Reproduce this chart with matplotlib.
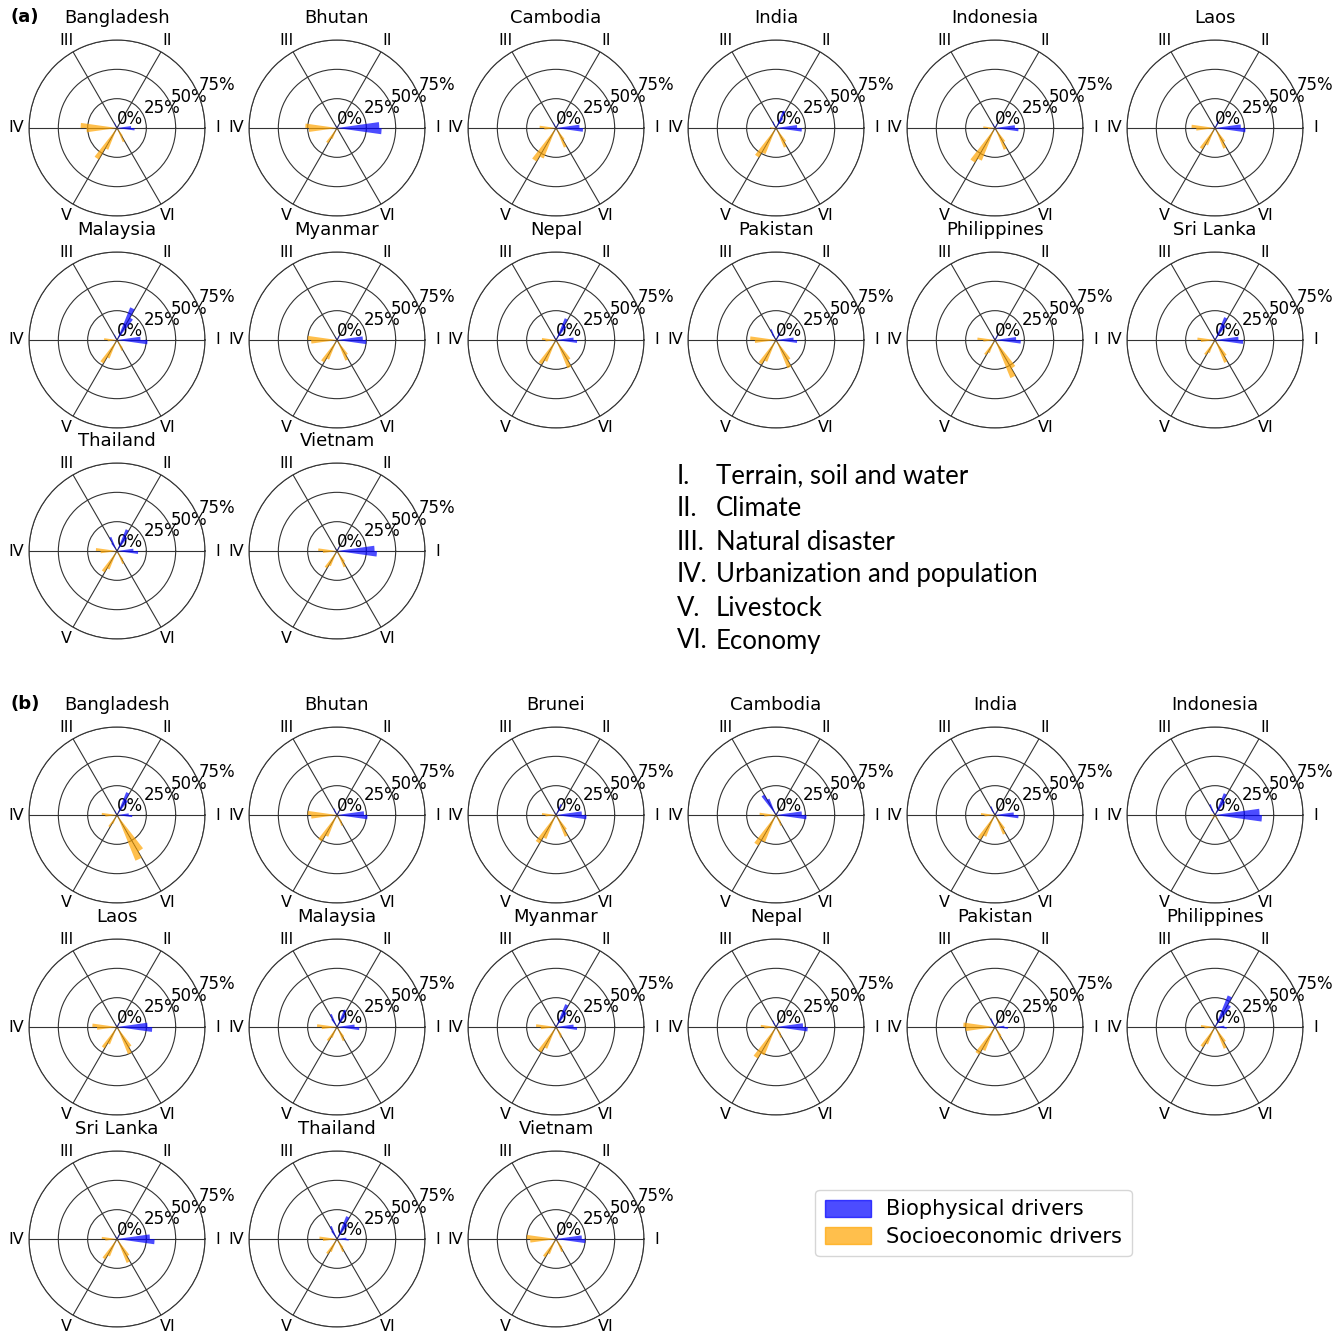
import numpy as np
import matplotlib
matplotlib.use("Agg")
import matplotlib.pyplot as plt
from matplotlib.patches import Patch

# values per panel: [I1, I2, II1, II2, III1, III2, IV1, IV2, V1, V2, VI1, VI2]
# (share of drivers, 0..0.75), I-III biophysical, IV-VI socioeconomic
a_bangladesh = [0.15, 0.12, 0.02, 0.02, 0.05, 0.03, 0.31, 0.26, 0.31, 0.20, 0.13, 0.08]
a_bhutan = [0.38, 0.36, 0.02, 0.03, 0.03, 0.02, 0.27, 0.24, 0.15, 0.10, 0.03, 0.02]
a_cambodia = [0.23, 0.20, 0.03, 0.04, 0.05, 0.03, 0.14, 0.10, 0.33, 0.28, 0.18, 0.12]
a_india = [0.22, 0.18, 0.10, 0.16, 0.06, 0.04, 0.05, 0.04, 0.29, 0.24, 0.18, 0.14]
a_indonesia = [0.20, 0.17, 0.03, 0.04, 0.04, 0.03, 0.10, 0.06, 0.34, 0.30, 0.20, 0.14]
a_laos = [0.26, 0.22, 0.04, 0.06, 0.03, 0.02, 0.20, 0.16, 0.21, 0.16, 0.19, 0.14]
a_malaysia = [0.26, 0.20, 0.22, 0.30, 0.05, 0.03, 0.11, 0.08, 0.23, 0.17, 0.10, 0.08]
a_myanmar = [0.25, 0.22, 0.03, 0.04, 0.03, 0.02, 0.25, 0.22, 0.22, 0.18, 0.19, 0.15]
a_nepal = [0.18, 0.15, 0.14, 0.20, 0.04, 0.03, 0.12, 0.09, 0.24, 0.20, 0.26, 0.20]
a_pakistan = [0.18, 0.15, 0.05, 0.07, 0.10, 0.06, 0.22, 0.18, 0.24, 0.20, 0.26, 0.20]
a_philippines = [0.22, 0.18, 0.03, 0.05, 0.04, 0.03, 0.15, 0.10, 0.15, 0.12, 0.35, 0.28]
a_srilanka = [0.24, 0.20, 0.15, 0.21, 0.05, 0.03, 0.15, 0.12, 0.15, 0.12, 0.21, 0.16]
a_thailand = [0.18, 0.14, 0.14, 0.20, 0.13, 0.08, 0.18, 0.14, 0.21, 0.17, 0.12, 0.09]
a_vietnam = [0.34, 0.32, 0.03, 0.04, 0.02, 0.02, 0.16, 0.12, 0.17, 0.14, 0.15, 0.11]

b_bangladesh = [0.13, 0.10, 0.15, 0.21, 0.04, 0.03, 0.13, 0.10, 0.12, 0.08, 0.42, 0.36]
b_bhutan = [0.26, 0.23, 0.03, 0.04, 0.06, 0.04, 0.25, 0.22, 0.26, 0.20, 0.10, 0.07]
b_brunei = [0.26, 0.22, 0.06, 0.10, 0.03, 0.02, 0.12, 0.09, 0.28, 0.22, 0.20, 0.15]
b_cambodia = [0.26, 0.22, 0.03, 0.03, 0.15, 0.20, 0.14, 0.10, 0.30, 0.25, 0.10, 0.07]
b_india = [0.20, 0.16, 0.04, 0.03, 0.08, 0.05, 0.12, 0.09, 0.24, 0.20, 0.18, 0.14]
b_indonesia = [0.40, 0.38, 0.14, 0.20, 0.10, 0.06, 0.04, 0.03, 0.04, 0.03, 0.05, 0.03]
b_laos = [0.30, 0.26, 0.03, 0.04, 0.03, 0.02, 0.21, 0.17, 0.21, 0.16, 0.25, 0.20]
b_malaysia = [0.19, 0.15, 0.12, 0.16, 0.12, 0.08, 0.17, 0.13, 0.14, 0.10, 0.13, 0.10]
b_myanmar = [0.18, 0.15, 0.15, 0.21, 0.03, 0.02, 0.17, 0.13, 0.25, 0.20, 0.10, 0.08]
b_nepal = [0.27, 0.23, 0.03, 0.04, 0.06, 0.04, 0.13, 0.10, 0.31, 0.26, 0.10, 0.07]
b_pakistan = [0.11, 0.08, 0.03, 0.03, 0.08, 0.05, 0.27, 0.25, 0.27, 0.22, 0.12, 0.09]
b_philippines = [0.10, 0.08, 0.22, 0.29, 0.03, 0.02, 0.12, 0.09, 0.20, 0.16, 0.20, 0.15]
b_srilanka = [0.32, 0.28, 0.03, 0.04, 0.03, 0.02, 0.13, 0.10, 0.20, 0.16, 0.22, 0.17]
b_thailand = [0.10, 0.08, 0.15, 0.21, 0.12, 0.08, 0.15, 0.12, 0.15, 0.12, 0.12, 0.09]
b_vietnam = [0.25, 0.22, 0.03, 0.04, 0.02, 0.02, 0.25, 0.22, 0.18, 0.14, 0.12, 0.09]

panels_a = [("Bangladesh", a_bangladesh), ("Bhutan", a_bhutan), ("Cambodia", a_cambodia),
            ("India", a_india), ("Indonesia", a_indonesia), ("Laos", a_laos),
            ("Malaysia", a_malaysia), ("Myanmar", a_myanmar), ("Nepal", a_nepal),
            ("Pakistan", a_pakistan), ("Philippines", a_philippines), ("Sri Lanka", a_srilanka),
            ("Thailand", a_thailand), ("Vietnam", a_vietnam)]
panels_b = [("Bangladesh", b_bangladesh), ("Bhutan", b_bhutan), ("Brunei", b_brunei),
            ("Cambodia", b_cambodia), ("India", b_india), ("Indonesia", b_indonesia),
            ("Laos", b_laos), ("Malaysia", b_malaysia), ("Myanmar", b_myanmar),
            ("Nepal", b_nepal), ("Pakistan", b_pakistan), ("Philippines", b_philippines),
            ("Sri Lanka", b_srilanka), ("Thailand", b_thailand), ("Vietnam", b_vietnam)]

cat_labels = ["I", "II", "III", "IV", "V", "VI"]
cat_names = ["Terrain, soil and water", "Climate", "Natural disaster",
             "Urbanization and population", "Livestock", "Economy"]
r_ticks = [0, 0.25, 0.5, 0.75]
r_labels = ["0%", "25%", "50%", "75%"]

W, H = 1344, 1331
col_x = [117, 337, 556, 776, 995, 1215]
rows_a = [128, 340, 551]
rows_b = [815, 1027, 1239]
R = 88  # px, outer radius

BLUE = "blue"
ORANGE = "orange"


def DrawPanel(fig, cx, cy, name, vals):
    ax = fig.add_axes([(cx - R) / W, 1 - (cy + R) / H, 2 * R / W, 2 * R / H], projection="polar")
    cat_ang = np.deg2rad(np.arange(6) * 60)
    offs = [-0.07, 0.07]
    for k in range(6):
        col = BLUE if k < 3 else ORANGE
        for j in range(2):
            ax.bar(cat_ang[k] + offs[j], vals[2 * k + j], width=0.14, color=col,
                   alpha=0.7, linewidth=0, zorder=3)
    ax.set_ylim(0, 0.75)
    ax.set_xticks(cat_ang)
    ax.set_xticklabels(cat_labels, fontsize=11.5)
    ax.set_yticks(r_ticks)
    ax.set_yticklabels(r_labels, fontsize=12)
    ax.grid(True, color="#333333", linewidth=0.8)
    ax.spines["polar"].set_color("#333333")
    ax.spines["polar"].set_linewidth(0.8)
    ax.tick_params(axis="x", pad=-1.5)
    ax.set_title(name, fontsize=13, pad=7.5)
    return ax


def main():
    fig = plt.figure(figsize=(W / 100, H / 100), dpi=100)
    for i, (name, vals) in enumerate(panels_a):
        DrawPanel(fig, col_x[i % 6], rows_a[i // 6], name, vals)
    for i, (name, vals) in enumerate(panels_b):
        DrawPanel(fig, col_x[i % 6], rows_b[i // 6], name, vals)

    fig.text(10 / W, 1 - 17 / H, "(a)", fontsize=13, fontweight="bold", va="center")
    fig.text(10 / W, 1 - 704 / H, "(b)", fontsize=13, fontweight="bold", va="center")

    # category key
    for i in range(6):
        y = 1 - (476 + 33 * i) / H
        fig.text(677 / W, y, cat_labels[i] + ".", fontsize=18.5, family="Lato", va="center")
        fig.text(716 / W, y, cat_names[i], fontsize=18.5, family="Lato", va="center")

    handles = [Patch(color=BLUE, alpha=0.7), Patch(color=ORANGE, alpha=0.7)]
    fig.legend(handles, ["Biophysical drivers", "Socioeconomic drivers"],
               loc="center left", bbox_to_anchor=(805 / W, 1 - 1223 / H),
               fontsize=15, handlelength=2.2, handleheight=0.9, borderpad=0.45,
               labelspacing=0.35, handletextpad=0.75)
    fig.savefig("out.png", dpi=100)


if __name__ == "__main__":
    main()
